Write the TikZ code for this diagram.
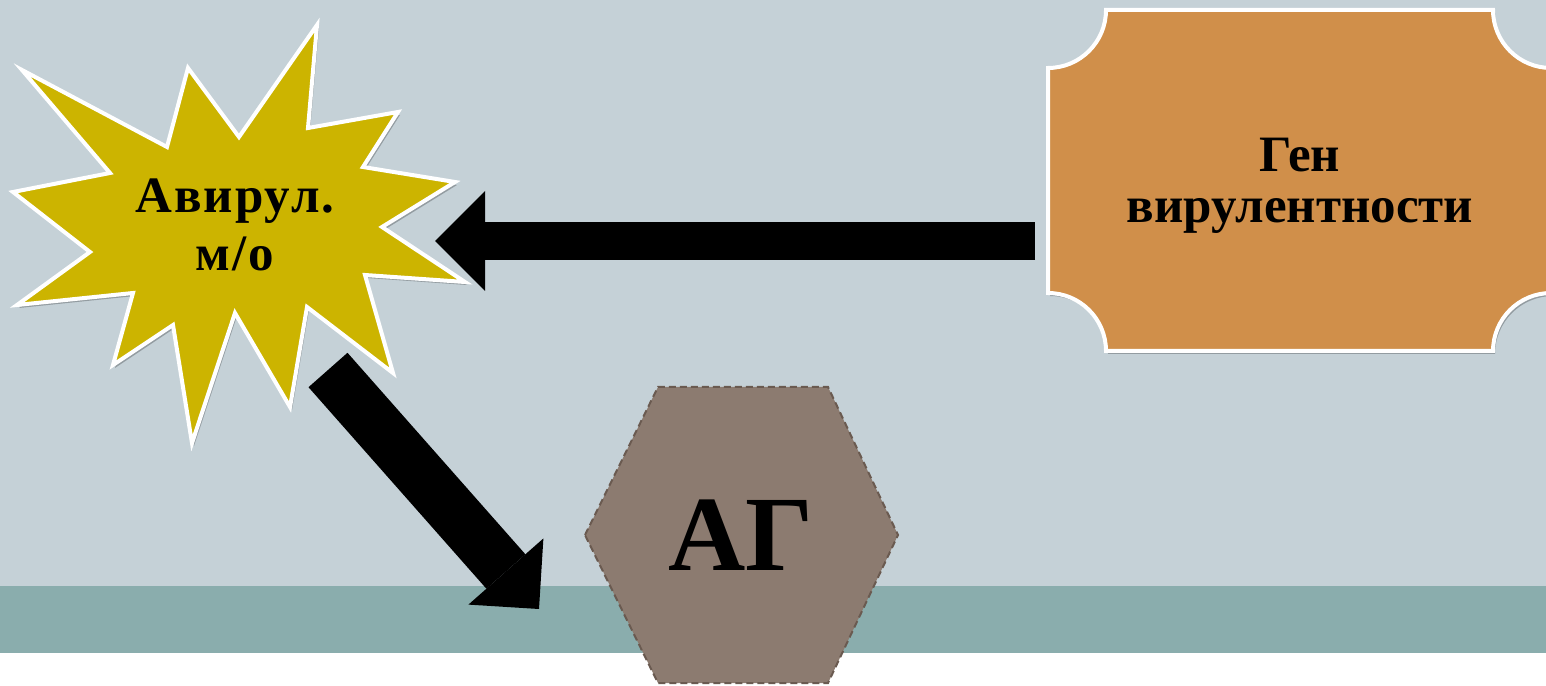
\documentclass[tikz,border=0pt]{standalone}
\usepackage{fontspec}
\setmainfont{Liberation Serif}
\newfontfamily\starfont[LetterSpace=4]{Liberation Serif}
\usetikzlibrary{arrows.meta,shadows}
\definecolor{bgtop}{HTML}{C5D1D7}
\definecolor{bgband}{HTML}{8AADAD}
\definecolor{starfill}{HTML}{CCB400}
\definecolor{boxfill}{HTML}{D08F4A}
\definecolor{hexfill}{HTML}{8C7B70}
\definecolor{hexline}{HTML}{6A5A50}
\tikzset{
 softshadow/.style={drop shadow={shadow xshift=2pt,shadow yshift=-3pt,opacity=0.25,fill=black}},
 shapeline/.style={draw=white,line width=4pt,line join=miter},
 lbl/.style={align=center,text=black,inner sep=0pt},
 harrow/.style={draw=black,line width=38pt,-{Triangle[width=100pt,length=50pt,line width=0pt]}},
 darrow/.style={draw=black,line width=52pt,-{Triangle[width=100pt,length=50pt,line width=0pt]}},
 hexstyle/.style={fill=hexfill,draw=hexline,line width=2pt,dash pattern=on 7pt off 4pt}
}
\begin{document}
\begin{tikzpicture}[x=1pt,y=1pt]
\useasboundingbox (0,0) rectangle (1546,685);
\fill[white] (0,0) rectangle (1546,32);
\fill[bgband] (0,32) rectangle (1546,99);
\fill[bgtop] (0,99) rectangle (1546,685);
% star
\draw[shapeline,fill=starfill,softshadow]
 (22,615) -- (167,538) -- (188,617) -- (239,548) -- (317,660) -- (308,557)
 -- (398,573) -- (363,518) -- (455,503) -- (382,458) -- (465,403) -- (365,410)
 -- (393,312) -- (307,378) -- (290,278) -- (235,372) -- (192,242) -- (173,360)
 -- (113,320) -- (133,392) -- (17,380) -- (90,433) -- (13,493) -- (110,512) -- cycle;
% box
\draw[shapeline,fill=boxfill,softshadow]
 (1048,617) arc[start angle=-90,end angle=0,radius=58]
 -- (1493,675) arc[start angle=180,end angle=270,radius=58]
 -- (1551,392) arc[start angle=90,end angle=180,radius=58]
 -- (1106,334) arc[start angle=0,end angle=90,radius=58] -- cycle;
% hexagon
\draw[hexstyle] (585,150) -- (658,298) -- (828,298) -- (898,150) -- (828,2) -- (658,2) -- cycle;
% labels
\node[lbl,font=\starfont\bfseries\fontsize{51}{58}\selectfont] (avir) at (235,460) {Авирул.\\м/о};
\node[lbl,font=\bfseries\fontsize{51}{51}\selectfont] (gen) at (1300,499) {Ген\\вирулентности};
\node[lbl,font=\bfseries\fontsize{107}{107}\selectfont] (ag) at (741,150) {АГ};
% connectors
\coordinate (hs) at (1035,444);
\coordinate (ht) at (435,444);
\draw[harrow] (hs) -- (ht);
\coordinate (ds) at (328,315);
\coordinate (dt) at (539,76);
\draw[darrow] (ds) -- (dt);
\end{tikzpicture}
\end{document}
